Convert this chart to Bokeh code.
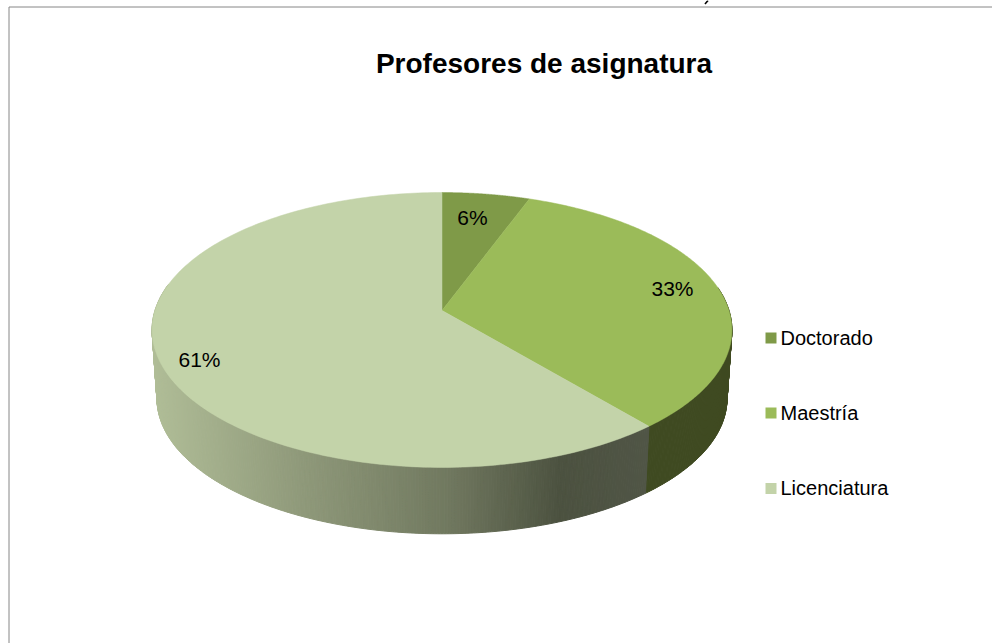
import numpy as np
from bokeh.plotting import figure
from bokeh.models import Range1d
from bokeh.core.properties import value
from bokeh.embed import file_html
from bokeh.resources import INLINE

title = "Profesores de asignatura"
categories = ["Doctorado", "Maestría", "Licenciatura"]
shares = [5.6, 33.3, 61.1]
labels = ["6%", "33%", "61%"]
top_colors = ["#7f9a48", "#9bbb59", "#c3d3a9"]
label_pos = [(472, 217), (672, 288), (199, 359)]
legend_y = [337.5, 412.5, 488]

FONT = value("Liberation Sans")
W, H = 992, 643
CX, CY = 441.5, 310.0
A, B, K = 287.0, 134.7, 0.1418
CY2, S = 379.0, 0.983

def rim(theta, cy=CY, s=1.0):
    u, v = np.sin(theta), np.cos(theta)
    d = 1 + K * v
    return CX + s * A * u / d, cy - s * B * v / d

p = figure(width=W, height=H, x_range=Range1d(0, W), y_range=Range1d(H, 0),
           output_backend="svg", toolbar_location=None, min_border=0,
           margin=(0, 0, 0, 0), outline_line_color=None)
p.axis.visible = False
p.grid.visible = False

# frame
p.line([8.5, 8.5], [H, 6.5], line_color="#868686", line_width=1)
p.line([8.5, W], [6.5, 6.5], line_color="#868686", line_width=1)
# the small dark tick above the frame, all that shows of a cropped-off glyph
p.line([707.5, 704.5], [0, 3.5], line_color="#000000", line_width=1.6)

cum = np.cumsum([0] + shares) / 100 * 2 * np.pi

def lerp(c1, c2, t):
    return tuple(int(round(a + (b - a) * t)) for a, b in zip(c1, c2))

def side_color(x, theta):
    if theta < cum[2]:
        return (63, 74, 33)
    stops = [(151, (176, 189, 151)), (300, (143, 153, 122)), (450, (112, 120, 95)),
             (560, (76, 82, 64)), (650, (80, 85, 70))]
    for (x0, c0), (x1, c1) in zip(stops, stops[1:]):
        if x <= x1:
            return lerp(c0, c1, max(0, (x - x0) / (x1 - x0)))
    return stops[-1][1]

angles = np.radians(np.arange(80, 282, 0.5))
for a0, a1 in zip(angles[:-1], angles[1:]):
    x0, y0 = rim(a0)
    x1, y1 = rim(a1)
    x2, y2 = rim(a1, CY2, S)
    x3, y3 = rim(a0, CY2, S)
    c = "#%02x%02x%02x" % side_color((x0 + x1) / 2, (a0 + a1) / 2)
    p.patch([x0, x1, x2, x3], [y0, y1, y2, y3], fill_color=c, line_color=c, line_width=1)

for i in range(3):
    th = np.linspace(cum[i], cum[i + 1], 200)
    xs, ys = rim(th)
    p.patch(np.r_[CX, xs], np.r_[CY, ys], fill_color=top_colors[i], line_color=top_colors[i], line_width=0.5)

for (x, y), t in zip(label_pos, labels):
    p.text([x], [y], text=[t], text_font=FONT, text_font_size="21px", text_align="center",
           text_baseline="middle", text_color="#000000")

p.text([543.5], [63], text=[title], text_font=FONT, text_font_size="28px", text_font_style="bold",
       text_align="center", text_baseline="middle", text_color="#000000")

for name, c, y in zip(categories, top_colors, legend_y):
    p.quad(left=[765], right=[776], top=[y - 5.5], bottom=[y + 5.5], fill_color=c, line_color=None)
    p.text([780], [y - 0.5], text=[name], text_font=FONT, text_font_size="20px", text_align="left",
           text_baseline="middle", text_color="#000000")

open("out.html", "w").write(file_html(p, INLINE))
